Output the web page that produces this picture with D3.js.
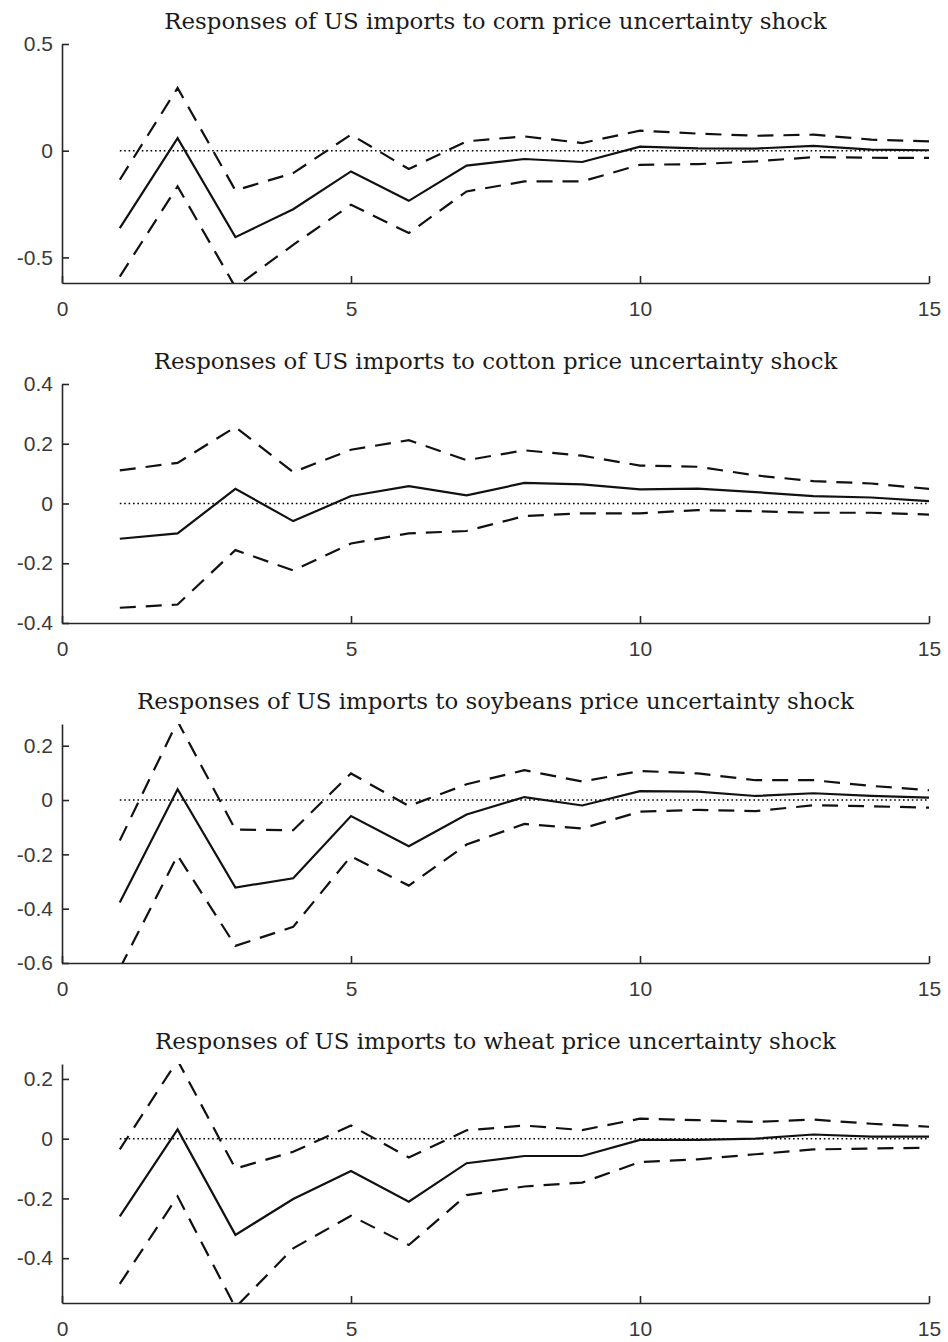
<!DOCTYPE html>
<html>
<head>
<meta charset="utf-8">
<script src="https://cdn.jsdelivr.net/npm/d3@7"></script>
<style>
  html, body { margin: 0; padding: 0; background: #fff; }
  svg { display: block; }
</style>
</head>
<body>
<svg id="chart" width="948" height="1342"></svg>
<script>
// ---- data ----
const horizons = [1,2,3,4,5,6,7,8,9,10,11,12,13,14,15];
const xTicks = [0, 5, 10, 15];

const titles = [
  "Responses of US imports to corn price uncertainty shock",
  "Responses of US imports to cotton price uncertainty shock",
  "Responses of US imports to soybeans price uncertainty shock",
  "Responses of US imports to wheat price uncertainty shock"
];

const yDomains = [[-0.62, 0.5], [-0.4, 0.4], [-0.6, 0.28], [-0.55, 0.25]];
const yTicks = [
  [-0.5, 0, 0.5],
  [-0.4, -0.2, 0, 0.2, 0.4],
  [-0.6, -0.4, -0.2, 0, 0.2],
  [-0.4, -0.2, 0, 0.2]
];

// corn
const cornIRF   = [-0.363, 0.059, -0.405, -0.274, -0.097, -0.235, -0.070, -0.039, -0.053, 0.019, 0.011, 0.010, 0.023, 0.005, 0.002];
const cornUpper = [-0.136, 0.294, -0.186, -0.105, 0.075, -0.086, 0.044, 0.067, 0.036, 0.094, 0.080, 0.070, 0.075, 0.052, 0.044];
const cornLower = [-0.590, -0.167, -0.640, -0.441, -0.253, -0.386, -0.191, -0.144, -0.144, -0.066, -0.063, -0.050, -0.030, -0.033, -0.034];
// cotton
const cottonIRF   = [-0.118, -0.100, 0.049, -0.059, 0.025, 0.058, 0.027, 0.069, 0.064, 0.047, 0.050, 0.038, 0.025, 0.020, 0.008];
const cottonUpper = [0.111, 0.136, 0.256, 0.105, 0.180, 0.212, 0.145, 0.178, 0.160, 0.127, 0.123, 0.094, 0.075, 0.067, 0.049];
const cottonLower = [-0.349, -0.338, -0.156, -0.224, -0.134, -0.100, -0.092, -0.042, -0.033, -0.033, -0.022, -0.026, -0.031, -0.031, -0.037];
// soybeans
const soyIRF   = [-0.377, 0.040, -0.322, -0.288, -0.059, -0.170, -0.053, 0.011, -0.020, 0.033, 0.031, 0.015, 0.025, 0.015, 0.009];
const soyUpper = [-0.149, 0.290, -0.109, -0.111, 0.098, -0.022, 0.058, 0.110, 0.068, 0.107, 0.098, 0.073, 0.073, 0.052, 0.036];
const soyLower = [-0.620, -0.204, -0.537, -0.467, -0.207, -0.315, -0.164, -0.088, -0.105, -0.043, -0.036, -0.041, -0.019, -0.023, -0.028];
// wheat
const wheatIRF   = [-0.260, 0.031, -0.322, -0.202, -0.108, -0.211, -0.082, -0.058, -0.058, -0.004, -0.004, 0.000, 0.014, 0.007, 0.007];
const wheatUpper = [-0.036, 0.262, -0.100, -0.044, 0.044, -0.063, 0.028, 0.044, 0.029, 0.067, 0.062, 0.056, 0.064, 0.050, 0.040];
const wheatLower = [-0.486, -0.193, -0.565, -0.367, -0.258, -0.356, -0.189, -0.160, -0.147, -0.078, -0.069, -0.052, -0.036, -0.033, -0.030];

const panels = [
  { irf: cornIRF,   upper: cornUpper,   lower: cornLower },
  { irf: cottonIRF, upper: cottonUpper, lower: cottonLower },
  { irf: soyIRF,    upper: soyUpper,    lower: soyLower },
  { irf: wheatIRF,  upper: wheatUpper,  lower: wheatLower }
];

// ---- layout ----
const svg = d3.select("#chart");
const left = 62, right = 929;
const panelStep = 340, plotTop = 44, plotH = 239;
const axisColor = "#262626";
const labelColor = "#3a3a3a";
const tickFont = "'Liberation Sans', Arial, sans-serif";
const titleFont = "'DejaVu Serif', 'Liberation Serif', serif";
const titleTargetWidth = 663; // width of first title in the reference

const x = d3.scaleLinear().domain([0, 15]).range([left, right]);

const titleNodes = [];

panels.forEach((p, i) => {
  const g = svg.append("g").attr("transform", `translate(0,${panelStep * i})`);
  const y = d3.scaleLinear().domain(yDomains[i]).range([plotTop + plotH, plotTop]);

  const clipId = "clip" + i;
  g.append("clipPath").attr("id", clipId)
    .append("rect").attr("x", left).attr("y", plotTop)
    .attr("width", right - left).attr("height", plotH);

  const plot = g.append("g").attr("clip-path", `url(#${clipId})`);
  const line = d3.line().x((d, k) => x(horizons[k])).y(d => y(d));

  // zero dotted line
  plot.append("path")
    .attr("d", d3.line()([[x(horizons[0]), y(0)], [x(horizons[horizons.length - 1]), y(0)]]))
    .attr("fill", "none").attr("stroke", "#000").attr("stroke-width", 1.6)
    .attr("stroke-dasharray", "1.6,2.8");

  [p.upper, p.lower].forEach(s => {
    plot.append("path").datum(s).attr("d", line)
      .attr("fill", "none").attr("stroke", "#111").attr("stroke-width", 2.2)
      .attr("stroke-dasharray", "16,10");
  });
  plot.append("path").datum(p.irf).attr("d", line)
    .attr("fill", "none").attr("stroke", "#111").attr("stroke-width", 2.2);

  // axes
  const yAxis = d3.axisLeft(y).tickValues(yTicks[i]).tickSizeInner(-7).tickSizeOuter(0)
    .tickPadding(9);
  const ya = g.append("g").attr("transform", `translate(${left},0)`).call(yAxis);
  const xAxis = d3.axisBottom(x).tickValues(xTicks).tickSizeInner(-7).tickSizeOuter(0)
    .tickPadding(18).tickFormat(d3.format("d"));
  const xa = g.append("g").attr("transform", `translate(0,${plotTop + plotH})`).call(xAxis);
  [ya, xa].forEach(a => {
    a.select(".domain").attr("stroke", axisColor).attr("stroke-width", 1.6);
    a.selectAll(".tick line").attr("stroke", axisColor).attr("stroke-width", 1.6);
    a.selectAll(".tick text").attr("fill", labelColor)
      .style("font-family", tickFont).style("font-size", "21px");
  });
  ya.selectAll(".tick text").text(d => d === 0 ? "0" : String(d));

  // title
  const t = g.append("text")
    .attr("x", (left + right) / 2).attr("y", 29)
    .attr("text-anchor", "middle")
    .style("font-family", titleFont).style("font-size", "20px")
    .attr("fill", "#1a1a1a")
    .text(titles[i]);
  titleNodes.push(t);
});

// scale title font so the first title matches the reference width
const w0 = titleNodes[0].node().getComputedTextLength();
const fs = 20 * titleTargetWidth / w0;
titleNodes.forEach(t => t.style("font-size", fs.toFixed(2) + "px"));
</script>
</body>
</html>
